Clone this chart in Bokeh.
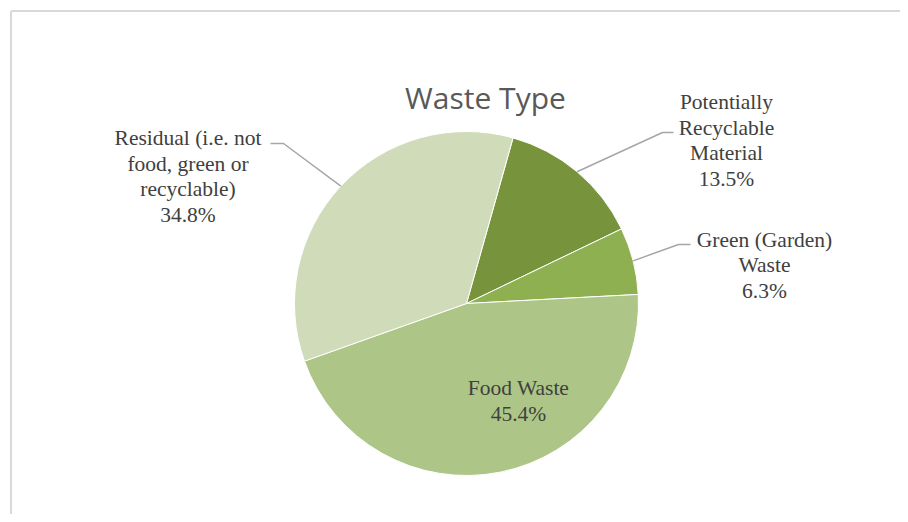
import numpy as np
from bokeh.plotting import figure
from bokeh.models import Range1d, ColumnDataSource
from bokeh.core.properties import value
from bokeh.embed import file_html
from bokeh.resources import INLINE

# ---- data ----
categories = ["Potentially\nRecyclable\nMaterial", "Green (Garden)\nWaste", "Food Waste",
              "Residual (i.e. not\nfood, green or\nrecyclable)"]
shares = [13.5, 6.3, 45.4, 34.8]
colors = ["#77933c", "#8fb050", "#adc687", "#cfdbb9"]
title_text = "Waste Type"

# ---- layout (pixel-like data space) ----
W, H = 900, 514
cx, cy, R = 466, 211, 172
start_deg = 74.3

p = figure(width=W, height=H, output_backend="svg", toolbar_location=None,
           x_range=Range1d(0, W), y_range=Range1d(0, H), min_border=0)
p.axis.visible = False
p.grid.visible = False
p.outline_line_color = None
p.background_fill_color = "white"

vals = np.array(shares, dtype=float)
frac = vals / vals.sum()
cum = np.concatenate([[0], np.cumsum(frac)])
starts = np.deg2rad(start_deg - cum[:-1] * 360)
ends = np.deg2rad(start_deg - cum[1:] * 360)
mids = (starts + ends) / 2

src = ColumnDataSource(dict(start=starts, end=ends, color=colors))
p.wedge(x=cx, y=cy, radius=R, start_angle="start", end_angle="end", direction="clock",
        fill_color="color", line_color="white", line_width=1, source=src)

# frame border (partial, as in reference)
p.line(x=[10.5, 10.5], y=[0, 503.5], line_color="#d9d9d9", line_width=2)
p.line(x=[10.5, W], y=[503.5, 503.5], line_color="#d9d9d9", line_width=2)

# title
p.text(x=[485], y=[417], text=[title_text], text_font=value("Open Sans"),
       text_font_size="30px", text_color="#595959", text_align="center",
       text_baseline="alphabetic")

# labels
serif = value("'Liberation Serif', 'Times New Roman', 'DejaVu Serif', serif")
label_pos = [(726, 374), (764, 249), (518, 113.5), (187.5, 338)]
elbows = [[(662, 382), (673, 382)], [(678, 270), (690, 270)], None, [(283, 371), (270, 371)]]
texts = [f"{c}\n{v:.1f}%" for c, v in zip(categories, shares)]
p.text(x=[q[0] for q in label_pos], y=[q[1] for q in label_pos], text=texts,
       text_font=serif, text_font_size="21.5px", text_color="#404040",
       text_align="center", text_baseline="middle", text_line_height=1.06)

xs, ys = [], []
for m, e in zip(mids, elbows):
    if e is None:
        continue
    px, py = cx + R * np.cos(m), cy + R * np.sin(m)
    xs.append([px] + [pt[0] for pt in e])
    ys.append([py] + [pt[1] for pt in e])
p.multi_line(xs=xs, ys=ys, line_color="#a6a6a6", line_width=1.5)

open("out.html", "w").write(file_html(p, INLINE))
